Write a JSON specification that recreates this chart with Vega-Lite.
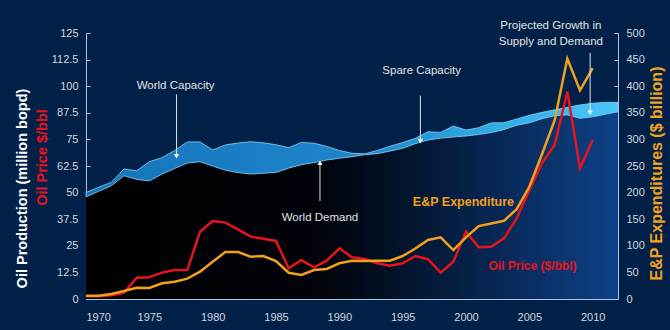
{
  "$schema": "https://vega.github.io/schema/vega-lite/v6.json",
  "width": 532,
  "height": 266,
  "autosize": {"type": "none"},
  "padding": {"left": 86, "top": 33, "right": 52, "bottom": 31},
  "background": "#022148",
  "config": {
    "view": {"stroke": null},
    "font": "Liberation Sans",
    "axis": {
      "grid": false,
      "domainColor": "#b3c2d4",
      "tickColor": "#b3c2d4",
      "labelColor": "#d2d6de",
      "labelFont": "Liberation Sans",
      "labelFontSize": 11,
      "titleFont": "Liberation Sans",
      "titleFontWeight": "bold"
    }
  },
  "datasets": {
    "supply": [
      {"year": 1970, "capacity": 50, "demand": 48},
      {"year": 1971, "capacity": 52.5, "demand": 50.6},
      {"year": 1972, "capacity": 54.8, "demand": 53.2},
      {"year": 1973, "capacity": 61.1, "demand": 57.9},
      {"year": 1974, "capacity": 60.3, "demand": 56.2},
      {"year": 1975, "capacity": 64.5, "demand": 55.5},
      {"year": 1976, "capacity": 66.4, "demand": 58.7},
      {"year": 1977, "capacity": 69.8, "demand": 61.3},
      {"year": 1978, "capacity": 73.8, "demand": 63.9},
      {"year": 1979, "capacity": 73.8, "demand": 64.5},
      {"year": 1980, "capacity": 70, "demand": 62.5},
      {"year": 1981, "capacity": 72.4, "demand": 60.5},
      {"year": 1982, "capacity": 73.3, "demand": 59.4},
      {"year": 1983, "capacity": 73.9, "demand": 58.7},
      {"year": 1984, "capacity": 73.4, "demand": 59.1},
      {"year": 1985, "capacity": 72.5, "demand": 59.5},
      {"year": 1986, "capacity": 71.1, "demand": 61.5},
      {"year": 1987, "capacity": 73.6, "demand": 63.1},
      {"year": 1988, "capacity": 73.2, "demand": 64.1},
      {"year": 1989, "capacity": 71.7, "demand": 65.3},
      {"year": 1990, "capacity": 69.8, "demand": 66.1},
      {"year": 1991, "capacity": 68.5, "demand": 66.9},
      {"year": 1992, "capacity": 68.2, "demand": 67.8},
      {"year": 1993, "capacity": 69.8, "demand": 68.3},
      {"year": 1994, "capacity": 71.8, "demand": 69.5},
      {"year": 1995, "capacity": 73.5, "demand": 70.8},
      {"year": 1996, "capacity": 75.5, "demand": 73},
      {"year": 1997, "capacity": 78.6, "demand": 74.7},
      {"year": 1998, "capacity": 78.3, "demand": 75.6},
      {"year": 1999, "capacity": 81.3, "demand": 76.1},
      {"year": 2000, "capacity": 79.4, "demand": 76.6},
      {"year": 2001, "capacity": 80.5, "demand": 77.3},
      {"year": 2002, "capacity": 82.8, "demand": 78.2},
      {"year": 2003, "capacity": 82.8, "demand": 79.6},
      {"year": 2004, "capacity": 84.6, "demand": 81.6},
      {"year": 2005, "capacity": 86.3, "demand": 82.8},
      {"year": 2006, "capacity": 87.7, "demand": 84.7},
      {"year": 2007, "capacity": 88.9, "demand": 86.1},
      {"year": 2008, "capacity": 90.1, "demand": 86.5},
      {"year": 2009, "capacity": 91.2, "demand": 84.9},
      {"year": 2010, "capacity": 92, "demand": 85.6},
      {"year": 2011, "capacity": 92.4, "demand": 86.8},
      {"year": 2012, "capacity": 92.4, "demand": 88}
    ],
    "market": [
      {"year": 1970, "price": 1.3, "ep": 6.3},
      {"year": 1971, "price": 1.3, "ep": 6.3},
      {"year": 1972, "price": 1.8, "ep": 9.4},
      {"year": 1973, "price": 2.9, "ep": 15},
      {"year": 1974, "price": 10, "ep": 21.3},
      {"year": 1975, "price": 10.2, "ep": 20.7},
      {"year": 1976, "price": 12.4, "ep": 29.5},
      {"year": 1977, "price": 13.6, "ep": 32.6},
      {"year": 1978, "price": 13.6, "ep": 38.2},
      {"year": 1979, "price": 31.6, "ep": 51.3},
      {"year": 1980, "price": 36.6, "ep": 70.1},
      {"year": 1981, "price": 35.9, "ep": 88.3},
      {"year": 1982, "price": 32.7, "ep": 88.3},
      {"year": 1983, "price": 29.3, "ep": 79.5},
      {"year": 1984, "price": 28.3, "ep": 80.8},
      {"year": 1985, "price": 27.3, "ep": 71.4},
      {"year": 1986, "price": 14.4, "ep": 49.4},
      {"year": 1987, "price": 18.3, "ep": 45.1},
      {"year": 1988, "price": 14.9, "ep": 54.5},
      {"year": 1989, "price": 18, "ep": 56.4},
      {"year": 1990, "price": 23.8, "ep": 67.1},
      {"year": 1991, "price": 19.6, "ep": 72},
      {"year": 1992, "price": 18.8, "ep": 71.4},
      {"year": 1993, "price": 16.8, "ep": 72},
      {"year": 1994, "price": 15.6, "ep": 72},
      {"year": 1995, "price": 16.8, "ep": 80.8},
      {"year": 1996, "price": 20.2, "ep": 95},
      {"year": 1997, "price": 18.7, "ep": 111},
      {"year": 1998, "price": 12.4, "ep": 116},
      {"year": 1999, "price": 17.5, "ep": 92},
      {"year": 2000, "price": 31.6, "ep": 116},
      {"year": 2001, "price": 24.3, "ep": 137},
      {"year": 2002, "price": 24.6, "ep": 142},
      {"year": 2003, "price": 28.5, "ep": 147},
      {"year": 2004, "price": 37.9, "ep": 169},
      {"year": 2005, "price": 51.2, "ep": 211},
      {"year": 2006, "price": 63.8, "ep": 272},
      {"year": 2007, "price": 72.4, "ep": 336},
      {"year": 2008, "price": 97.4, "ep": 452},
      {"year": 2009, "price": 61.5, "ep": 392},
      {"year": 2010, "price": 74.7, "ep": 434}
    ],
    "notes": [
      {"year": 1977.07, "value": 100.3, "label": "World Capacity"},
      {"year": 1988.47, "value": 38.2, "label": "World Demand"},
      {"year": 1996.5, "value": 107, "label": "Spare Capacity"},
      {"year": 2006.7, "value": 128.2, "label": "Projected Growth in"},
      {"year": 2006.7, "value": 120.9, "label": "Supply and Demand"}
    ],
    "arrows": [
      {"year": 1977.15, "from": 96.1, "to": 67.1, "dir": "down"},
      {"year": 1988.47, "from": 46, "to": 64, "dir": "up"},
      {"year": 1996.4, "from": 95.6, "to": 74.2, "dir": "down"},
      {"year": 2009.8, "from": 115.7, "to": 87.5, "dir": "down"}
    ],
    "seriesLabels": [
      {"year": 1999.8, "value": 45.7, "series": "ep", "label": "E&P Expenditure"},
      {"year": 2005.25, "value": 15.4, "series": "price", "label": "Oil Price ($/bbl)"}
    ]
  },
  "encoding": {
    "x": {
      "field": "year",
      "type": "quantitative",
      "scale": {"domain": [1970, 2012], "nice": false, "zero": false},
      "axis": {
        "title": null,
        "values": [1970, 1975, 1980, 1985, 1990, 1995, 2000, 2005, 2010],
        "format": "d",
        "tickSize": -4,
        "labelPadding": 16
      }
    }
  },
  "layer": [
    {
      "data": {"name": "supply"},
      "mark": {
        "type": "area",
        "color": {
          "gradient": "linear", "x1": 0, "x2": 1, "y1": 0, "y2": 0,
          "stops": [
            {"offset": 0, "color": "#000000"},
            {"offset": 0.45, "color": "#01040b"},
            {"offset": 0.75, "color": "#062550"},
            {"offset": 1, "color": "#0e4288"}
          ]
        }
      },
      "encoding": {
        "y": {
          "field": "demand", "type": "quantitative",
          "scale": {"domain": [0, 125], "nice": false},
          "axis": {
            "orient": "left",
            "values": [0, 12.5, 25, 37.5, 50, 62.5, 75, 87.5, 100, 112.5, 125],
            "format": ".1~f",
            "tickSize": -4,
            "labelPadding": 12,
            "labelOverlap": false,
            "title": "Oil Price $/bbl",
            "titleColor": "#e8141c",
            "titleFontSize": 14.5,
            "titleBaseline": "middle",
            "titleX": -44,
            "titleY": 124
          }
        },
        "y2": {"datum": 0}
      }
    },
    {
      "data": {"name": "supply"},
      "mark": {
        "type": "area",
        "stroke": "#8ad4f5",
        "strokeWidth": 0.8,
        "color": {
          "gradient": "linear", "x1": 0, "x2": 1, "y1": 0, "y2": 0,
          "stops": [
            {"offset": 0, "color": "#1574ba"},
            {"offset": 0.5, "color": "#1d85cb"},
            {"offset": 0.8, "color": "#32afe9"},
            {"offset": 1, "color": "#4ac6f7"}
          ]
        }
      },
      "encoding": {
        "y": {
          "field": "capacity", "type": "quantitative",
          "scale": {"domain": [0, 125], "nice": false},
          "axis": {
            "orient": "left",
            "labels": false,
            "ticks": false,
            "domain": false,
            "title": "Oil Production (million bopd)",
            "titleColor": "#ffffff",
            "titleFontSize": 14.5,
            "titleBaseline": "middle",
            "titleX": -64,
            "titleY": 155
          }
        },
        "y2": {"field": "demand"}
      }
    },
    {
      "data": {"name": "market"},
      "mark": {"type": "line", "color": "#e8141c", "strokeWidth": 2.5},
      "encoding": {
        "y": {"field": "price", "type": "quantitative", "scale": {"domain": [0, 125], "nice": false}, "axis": null}
      }
    },
    {
      "data": {"name": "market"},
      "mark": {"type": "line", "color": "#f2a11f", "strokeWidth": 2.5},
      "encoding": {
        "y": {
          "field": "ep", "type": "quantitative",
          "scale": {"domain": [0, 500], "nice": false},
          "axis": {
            "orient": "right",
            "values": [0, 50, 100, 150, 200, 250, 300, 350, 400, 450, 500],
            "tickSize": -4,
            "labelPadding": 12,
            "labelOverlap": false,
            "title": "E&P Expenditures ($ billion)",
            "titleAngle": 270,
            "titleColor": "#f2a11f",
            "titleFontSize": 16,
            "titleBaseline": "middle",
            "titleX": 38,
            "titleY": 140
          }
        }
      }
    },
    {
      "data": {"name": "arrows"},
      "mark": {"type": "rule", "color": "#e4e4e4", "strokeWidth": 1},
      "encoding": {
        "y": {"field": "from", "type": "quantitative", "scale": {"domain": [0, 125], "nice": false}, "axis": null},
        "y2": {"field": "to"}
      }
    },
    {
      "data": {"name": "arrows"},
      "mark": {"type": "point", "filled": true, "color": "#f2f2f2", "size": 28, "opacity": 1},
      "encoding": {
        "y": {"field": "to", "type": "quantitative", "scale": {"domain": [0, 125], "nice": false}, "axis": null},
        "shape": {
          "field": "dir", "type": "nominal",
          "scale": {"domain": ["down", "up"], "range": ["triangle-down", "triangle-up"]},
          "legend": null
        }
      }
    },
    {
      "data": {"name": "notes"},
      "mark": {"type": "text", "color": "#e2e2e2", "fontSize": 11.5, "font": "Liberation Sans"},
      "encoding": {
        "y": {"field": "value", "type": "quantitative", "scale": {"domain": [0, 125], "nice": false}, "axis": null},
        "text": {"field": "label"}
      }
    },
    {
      "data": {"name": "seriesLabels"},
      "transform": [{"filter": "datum.series == 'ep'"}],
      "mark": {"type": "text", "color": "#f2a11f", "fontSize": 12.5, "fontWeight": "bold", "font": "Liberation Sans"},
      "encoding": {
        "y": {"field": "value", "type": "quantitative", "scale": {"domain": [0, 125], "nice": false}, "axis": null},
        "text": {"field": "label"}
      }
    },
    {
      "data": {"name": "seriesLabels"},
      "transform": [{"filter": "datum.series == 'price'"}],
      "mark": {"type": "text", "color": "#e8141c", "fontSize": 12, "fontWeight": "bold", "font": "Liberation Sans"},
      "encoding": {
        "y": {"field": "value", "type": "quantitative", "scale": {"domain": [0, 125], "nice": false}, "axis": null},
        "text": {"field": "label"}
      }
    }
  ],
  "resolve": {"scale": {"y": "independent"}}
}
